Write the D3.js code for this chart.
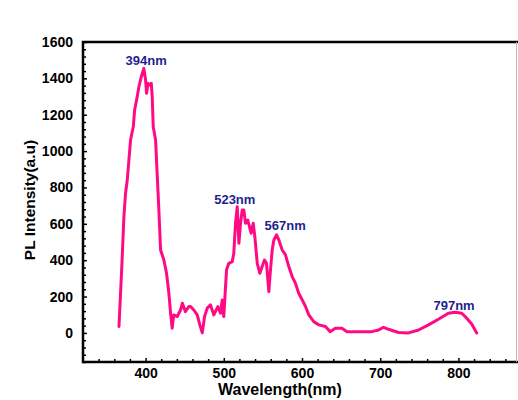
<!DOCTYPE html>
<html>
<head>
<meta charset="utf-8">
<script src="https://cdn.jsdelivr.net/npm/d3@7"></script>
<style>
  body { margin: 0; background: #fff; }
  svg text { font-family: Arial, 'Liberation Sans', sans-serif; font-weight: bold; }
</style>
</head>
<body>
<svg width="518" height="400"></svg>
<script>
// PL spectrum
let wavelength = [366, 368, 370, 372.3, 374.4, 376.6, 378.7, 380.8, 384.3, 386, 388.5, 391.5, 394.5, 397.8,
  400, 401.3, 403, 405.5, 407.3, 408.5, 409.8, 412.8, 415, 417, 419.2, 423.4, 426.8, 429.8, 432, 434,
  436, 440.5, 444.7, 447, 451, 455.3, 457.5, 461.7, 466, 469.4, 472.5, 475.4, 478.8, 483, 487.3, 492.4,
  495.8, 498, 500, 503.5, 506.4, 510.8, 512.8, 515, 517.2, 519.3, 521.4, 523.6, 525.6, 527.8, 530.7,
  533.3, 535, 537.6, 539.7, 542.8, 546.1, 549.1, 552, 554.6, 557.6, 559.7, 561.9, 564, 567.4, 570.4,
  574.7, 578.9, 583.1, 587.4, 591.6, 595.8, 600.3, 604.5, 608.7, 615, 621.7, 630, 636, 642.6, 651,
  657.5, 672.3, 689.3, 697.9, 704.2, 710.6, 723.4, 736.2, 749, 761.7, 774.4, 787.2, 795.8, 804.2,
  810.6, 817, 823.4];
let intensity = [35, 218, 401, 640, 768, 841, 951, 1061, 1134, 1226, 1281, 1354, 1409, 1455,
  1391, 1318, 1373, 1363, 1373, 1299, 1134, 1061, 859, 676, 456, 401, 328, 218, 108, 26,
  99, 90, 126, 163, 117, 145, 145, 126, 99, 44, 0, 90, 136, 154, 99, 145,
  108, 181, 90, 346, 383, 392, 438, 603, 694, 493, 603, 676, 676, 603, 621,
  576, 548, 603, 529, 383, 328, 365, 401, 383, 227, 346, 456, 511, 539, 511,
  456, 429, 365, 310, 273, 218, 181, 145, 99, 62, 44, 35, 7, 26, 26,
  7, 7, 7, 16, 31, 20, 2, 0, 16, 44, 75, 108, 114, 108,
  81, 49, 0];

let xTicks = [400, 500, 600, 700, 800];
let yTicks = [0, 200, 400, 600, 800, 1000, 1200, 1400, 1600];

let peakLabels = ['394nm', '523nm', '567nm', '797nm'];
let peakAt = [397, 523, 567, 797];
let peakValue = [1455, 694, 539, 114];

let svg = d3.select('svg');
let x = d3.scaleLinear().domain([320, 880]).range([83, 521]);
let y = d3.scaleLinear().domain([-160, 1600]).range([362, 42]);

// minor ticks
let xMinor = d3.range(340, 880, 20).filter(function(v) { return v % 100 !== 0; });
let yMinor = d3.range(-160, 1600, 40).filter(function(v) { return v % 200 !== 0; });

let xAxis = svg.append('g')
  .attr('transform', 'translate(0,362)')
  .call(d3.axisBottom(x).tickValues(xTicks).tickFormat(d3.format('d'))
    .tickSizeInner(-4).tickSizeOuter(0).tickPadding(6));
xAxis.selectAll('text').attr('font-size', '14px').attr('fill', '#000');
xAxis.select('.domain').remove();

svg.append('g')
  .attr('transform', 'translate(0,362)')
  .call(d3.axisBottom(x).tickValues(xMinor).tickSize(-3).tickFormat(''))
  .select('.domain').remove();

let yAxis = svg.append('g')
  .attr('transform', 'translate(83,0)')
  .call(d3.axisLeft(y).tickValues(yTicks).tickFormat(d3.format('d'))
    .tickSizeInner(-4).tickSizeOuter(0).tickPadding(10));
yAxis.selectAll('text').attr('font-size', '14px').attr('fill', '#000');
yAxis.select('.domain').remove();

svg.append('g')
  .attr('transform', 'translate(83,0)')
  .call(d3.axisLeft(y).tickValues(yMinor).tickSize(-3).tickFormat(''))
  .select('.domain').remove();

svg.selectAll('.tick line').attr('stroke', '#000').attr('stroke-width', 1.5);

// frame
svg.append('path')
  .attr('d', 'M518,' + y(1600) + 'H' + x(320) + 'V' + y(-160) + 'H518')
  .attr('fill', 'none')
  .attr('stroke', '#000')
  .attr('stroke-width', 2.5);
svg.append('line')
  .attr('x1', 516.5).attr('x2', 516.5)
  .attr('y1', y(1600)).attr('y2', y(-160))
  .attr('stroke', '#bbb')
  .attr('stroke-width', 1);

let line = d3.line()
  .x(function(d, i) { return x(wavelength[i]); })
  .y(function(d) { return y(d); });

svg.append('path')
  .datum(intensity)
  .attr('fill', 'none')
  .attr('stroke', '#ff0a84')
  .attr('stroke-width', 3)
  .attr('stroke-linejoin', 'round')
  .attr('stroke-linecap', 'round')
  .attr('d', line);

// label offsets from the peak point
let labelDx = [3, -7, 9, -2];
let labelDy = [-3, -3, -5, -2];

svg.selectAll('.peak')
  .data(peakLabels)
  .enter().append('text')
  .attr('class', 'peak')
  .attr('x', function(d, i) { return x(peakAt[i]) + labelDx[i]; })
  .attr('y', function(d, i) { return y(peakValue[i]) + labelDy[i]; })
  .attr('text-anchor', 'middle')
  .attr('font-size', '13px')
  .attr('fill', '#1f1f8f')
  .text(function(d) { return d; });

svg.append('text')
  .attr('x', 280)
  .attr('y', 395)
  .attr('text-anchor', 'middle')
  .attr('font-size', '16px')
  .attr('fill', '#000')
  .text('Wavelength(nm)');

svg.append('text')
  .attr('transform', 'translate(35,200) rotate(-90)')
  .attr('text-anchor', 'middle')
  .attr('font-size', '15.5px')
  .attr('fill', '#000')
  .text('PL Intensity(a.u)');
</script>
</body>
</html>
